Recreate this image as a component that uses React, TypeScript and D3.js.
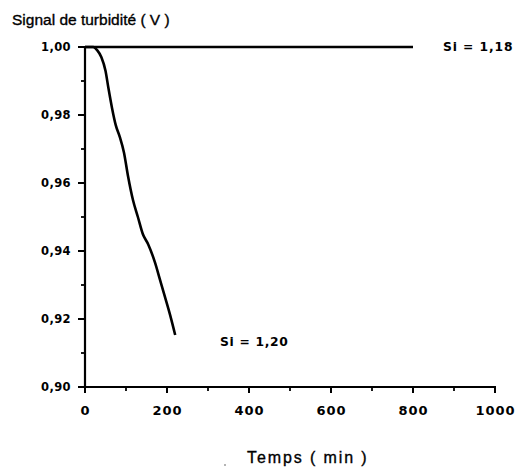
import React from "react";
import * as d3 from "d3";

const xTicks = [0, 200, 400, 600, 800, 1000];
const xMinor = [100, 300, 500, 700, 900];
const yTicks = [0.9, 0.92, 0.94, 0.96, 0.98, 1.0];
const yMinor = [0.91, 0.93, 0.95, 0.97, 0.99];

const si118Time = [0, 800];
const si118Value = [1.0, 1.0];

const si120Time = [0, 20, 30, 40, 50, 57, 66, 75, 85, 95, 105, 117, 129, 141, 154, 171, 183, 195, 208, 220];
const si120Value = [1.0, 1.0, 0.999, 0.997, 0.993, 0.988, 0.982, 0.977, 0.9735, 0.969, 0.962, 0.955, 0.95, 0.945, 0.942, 0.9365, 0.9315, 0.9265, 0.921, 0.9153];

const fmt = (v: number) => v.toFixed(2).replace(".", ",");

export default function App() {
  const W = 517, H = 471;
  const x = d3.scaleLinear().domain([0, 1000]).range([85, 495]);
  const y = d3.scaleLinear().domain([0.9, 1.0]).range([387, 47]);
  const line = d3
    .line<[number, number]>()
    .x((d) => x(d[0]))
    .y((d) => y(d[1]))
    .curve(d3.curveMonotoneX);
  const d118 = line(si118Time.map((t, i) => [t, si118Value[i]]) as [number, number][]) || "";
  const d120 = line(si120Time.map((t, i) => [t, si120Value[i]]) as [number, number][]) || "";
  const font = "'Liberation Sans', Arial, sans-serif";
  const wide = "'DejaVu Sans', 'Liberation Sans', sans-serif";
  return (
    <svg width={W} height={H} style={{ position: "absolute", left: 0, top: 0, background: "#fff" }} fontFamily={font}>
      <rect width={W} height={H} fill="#fff" />
      {/* axes */}
      <line x1={x(0)} x2={x(0)} y1={y(1.0) - 1} y2={y(0.9) + 1} stroke="#000" strokeWidth={2.2} />
      <line x1={x(0) - 1} x2={x(1000) + 1} y1={y(0.9)} y2={y(0.9)} stroke="#000" strokeWidth={2} />
      {yTicks.map((v) => (
        <g key={"y" + v}>
          <line x1={x(0) - 7} x2={x(0)} y1={y(v)} y2={y(v)} stroke="#000" strokeWidth={2} />
          <text x={x(0) - 14} y={y(v) + 4.3} textAnchor="end" fontFamily={wide} fontSize={11.5} fontWeight="bold" letterSpacing={0.4}>
            {fmt(v)}
          </text>
        </g>
      ))}
      {yMinor.map((v) => (
        <line key={"ym" + v} x1={x(0) - 4} x2={x(0)} y1={y(v)} y2={y(v)} stroke="#000" strokeWidth={1.8} />
      ))}
      {xTicks.map((v) => (
        <g key={"x" + v}>
          <line x1={x(v)} x2={x(v)} y1={y(0.9)} y2={y(0.9) + 6} stroke="#000" strokeWidth={2} />
          <text x={x(v) + 0.5} y={y(0.9) + 28} textAnchor="middle" fontFamily={wide} fontSize={13} fontWeight="bold" letterSpacing={1}>
            {v}
          </text>
        </g>
      ))}
      {xMinor.map((v) => (
        <line key={"xm" + v} x1={x(v)} x2={x(v)} y1={y(0.9)} y2={y(0.9) + 4} stroke="#000" strokeWidth={1.8} />
      ))}
      {/* series */}
      <path d={d118} fill="none" stroke="#000" strokeWidth={2.3} />
      <path d={d120} fill="none" stroke="#000" strokeWidth={2.6} strokeLinejoin="round" />
      {/* labels */}
      <text x={12} y={25} fontSize={15.5} stroke="#000" strokeWidth={0.35}>Signal de turbidité ( V )</text>
      <text x={443} y={51} fontFamily={wide} fontSize={12.3} fontWeight="bold" letterSpacing={0.9}>Si = 1,18</text>
      <text x={220} y={346} fontFamily={wide} fontSize={12.3} fontWeight="bold" letterSpacing={0.7}>Si = 1,20</text>
      <text x={247} y={463} fontSize={16} letterSpacing={1.9} stroke="#000" strokeWidth={0.35}>Temps ( min )</text>
      <circle cx={225} cy={465} r={0.8} fill="#555" />
    </svg>
  );
}
